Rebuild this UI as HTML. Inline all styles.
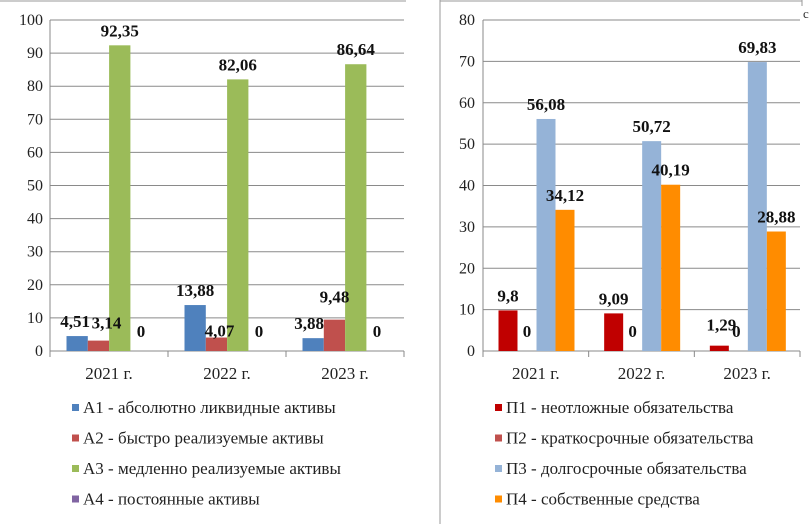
<!DOCTYPE html>
<html><head><meta charset="utf-8"><style>
body{margin:0;background:#fff}
text{font-family:"Liberation Serif","DejaVu Serif","Noto Serif CJK SC","Times New Roman",serif !important}
</style></head><body>
<svg width="809" height="524" viewBox="0 0 809 524" xmlns="http://www.w3.org/2000/svg">
<line x1="0" y1="1" x2="406" y2="1" stroke="#999"/>
<line x1="440" y1="1" x2="802" y2="1" stroke="#999"/>
<line x1="440" y1="0" x2="440" y2="524" stroke="#999"/>
<line x1="802" y1="0" x2="802" y2="6" stroke="#999"/>
<text x="803" y="18" font-size="13" fill="#333">c</text>
<g id="left"></g>
<g id="right"></g>
</svg>
<script>
const categories=["2021 г.","2022 г.","2023 г."];
const assetNames=["А1 - абсолютно ликвидные активы","А2 - быстро реализуемые активы","А3 - медленно реализуемые активы","А4 - постоянные активы"];
const assetColors=["#4f81bd","#c0504d","#9bbb59","#8064a2"];
const a1=[4.51,13.88,3.88];
const a2=[3.14,4.07,9.48];
const a3=[92.35,82.06,86.64];
const a4=[0,0,0];
const assetTicks=[0,10,20,30,40,50,60,70,80,90,100];
const liabNames=["П1 - неотложные обязательства","П2 - краткосрочные обязательства","П3 - долгосрочные обязательства","П4 - собственные средства"];
const liabColors=["#c00000","#c0504d","#95b3d7","#ff8c00"];
const p1=[9.8,9.09,1.29];
const p2=[0,0,0];
const p3=[56.08,50.72,69.83];
const p4=[34.12,40.19,28.88];
const liabTicks=[0,10,20,30,40,50,60,70,80];
const NS="http://www.w3.org/2000/svg";
function mk(g,tag,at,txt){const e=document.createElementNS(NS,tag);for(const k in at)e.setAttribute(k,at[k]);if(txt!==undefined){e.textContent=txt;}g.appendChild(e);return e;}
function fmt(v){return String(v).replace('.',',');}
function draw(gid,cfg){
 const g=document.getElementById(gid);
 const {x0,x1,yTop,yBot,max,ticks,series,colors,names,barW,off,labX,legX,labelOff}=cfg;
 const ys=v=>yBot-(v/max)*(yBot-yTop);
 const cw=(x1-x0)/categories.length;
 ticks.forEach(t=>{
  const l=mk(g,'line',{x1:x0,x2:x1,y1:ys(t),y2:ys(t),stroke:'#8a8a8a','stroke-width':1});
  
  
  const tx=mk(g,'text',{x:labX,y:ys(t)+5,'text-anchor':'end','font-size':16,fill:'#222'},String(t));
  
  
 });
 const ax=mk(g,'line',{x1:x0,x2:x0,y1:yTop,y2:yBot+5,stroke:'#888'});
 
 
 for(let c=0;c<=categories.length;c++){
  const tk=mk(g,'line',{x1:x0+c*cw,x2:x0+c*cw,y1:yBot,y2:yBot+6,stroke:'#888'});
  
  
 }
 categories.forEach((cat,c)=>{
  const t=mk(g,'text',{x:x0+c*cw+cw/2,y:yBot+28,'text-anchor':'middle','font-size':17,fill:'#222'},cat);
  
  
  series.forEach((s,i)=>{
   const v=s[c];const bx=x0+c*cw+off+i*barW;
   if(v>0){
    const r=mk(g,'rect',{x:bx,y:ys(v),width:barW,height:yBot-ys(v),fill:colors[i]});
    
    
   }
  });
 });
 categories.forEach((cat,c)=>{
  series.forEach((s,i)=>{
   const v=s[c];const bx=x0+c*cw+off+i*barW;
   const lo=(labelOff[i]&&labelOff[i][c])||[0,0];
   const ly=v>0?ys(v)-9:yBot-14;
   const lt=mk(g,'text',{x:bx+barW/2+lo[0],y:ly+lo[1],'text-anchor':'middle','font-size':17,'font-weight':'bold',fill:'#111'},fmt(v));
   
   
  });
 });
 names.forEach((n,i)=>{
  const y=410+i*30.5;
  const sq=mk(g,'rect',{x:legX,y:y-6,width:7,height:7,fill:colors[i]});
  
  
  const t=mk(g,'text',{x:legX+11,y:y+3,'font-size':17,fill:'#222'},n);
  
  
 });
}
draw('left',{x0:50,x1:404,yTop:20,yBot:351,max:100,ticks:assetTicks,series:[a1,a2,a3,a4],colors:assetColors,names:assetNames,barW:21.3,off:16.5,labX:43,legX:72,
 labelOff:[[[-2,0],[0,0],[-4,0]],[[8,-3],[3,8],[0,-8]],[[0,0],[0,0],[0,0]],[[0,0],[0,0],[0,0]]]});
draw('right',{x0:483,x1:800,yTop:20,yBot:351,max:80,ticks:liabTicks,series:[p1,p2,p3,p4],colors:liabColors,names:liabNames,barW:19,off:15.5,labX:475,legX:495,
 labelOff:[[[0,0],[0,0],[2,-6]],[[0,0],[0,0],[-2,0]],[[0,0],[0,0],[0,0]],[[0,0],[0,0],[0,0]]]});
</script>
</body></html>
